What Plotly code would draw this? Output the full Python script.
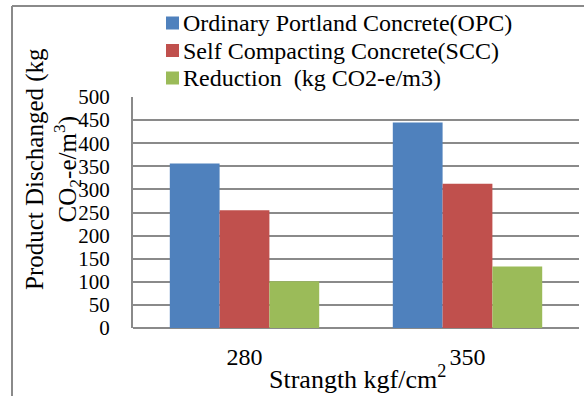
import plotly.graph_objects as go

categories = ["280", "350"]
series_names = ["Ordinary Portland Concrete(OPC)", "Self Compacting Concrete(SCC)", "Reduction  (kg CO2-e/m3)"]
opc = [356, 445]
scc = [255, 312]
reduction = [101, 133]
colors = ["#4F81BD", "#C0504D", "#9BBB59"]
y_ticks = [0, 50, 100, 150, 200, 250, 300, 350, 400, 450, 500]

W, H = 584, 396
L, R, T, B = 133, 5, 97, 68
pw, ph = W - L - R, H - T - B

def px(x):
    return (x - L) / pw

def py(y):
    return (H - B - y) / ph

FONT = "Liberation Serif"

def f(size=20):
    return dict(family=FONT, size=size, color="black")

fig = go.Figure()
for name, vals, col in zip(series_names, [opc, scc, reduction], colors):
    fig.add_trace(go.Bar(x=categories, y=vals, name=name, marker_color=col,
                         marker_line_width=0, showlegend=False))

shapes = []
annotations = []
# custom legend
for i, (name, col) in enumerate(zip(series_names, colors)):
    cy = 23 + i * 27.5
    shapes.append(dict(type="rect", xref="paper", yref="paper",
                       x0=px(166), x1=px(179), y0=py(cy + 6.5), y1=py(cy - 6.5),
                       fillcolor=col, line_width=0))
    annotations.append(dict(text=name, xref="paper", yref="paper",
                            x=px(181), y=py(cy), xanchor="left", yanchor="middle",
                            showarrow=False, font=f(24)))

# outer frame (top and left lines)
shapes.append(dict(type="line", xref="paper", yref="paper",
                   x0=px(12), x1=px(590), y0=py(6), y1=py(6),
                   line=dict(color="#8a8a8a", width=2)))
shapes.append(dict(type="line", xref="paper", yref="paper",
                   x0=px(12), x1=px(12), y0=py(6), y1=py(400),
                   line=dict(color="#8a8a8a", width=2)))

annotations.append(dict(text="Product Dischanged (kg<br>CO<sub>2</sub>-e/m<sup>3</sup>)",
                        xref="paper", yref="paper", x=px(53), y=py(169),
                        xanchor="center", yanchor="middle", textangle=-90,
                        showarrow=False, font=f(25)))
annotations.append(dict(text="Strangth kgf/cm<sup>2</sup>",
                        xref="paper", yref="paper", x=px(357), y=py(377),
                        xanchor="center", yanchor="middle",
                        showarrow=False, font=f(26)))

fig.update_layout(
    width=W, height=H,
    margin=dict(l=L, r=R, t=T, b=B),
    paper_bgcolor="white", plot_bgcolor="white",
    barmode="group", bargap=0.33, bargroupgap=0,
    font=f(20),
    shapes=shapes, annotations=annotations,
    xaxis=dict(showgrid=False, showline=False, ticks="", ticklabelstandoff=12,
               tickfont=f(24)),
    yaxis=dict(range=[0, 500], tickvals=y_ticks, showgrid=True, gridcolor="#8a8a8a",
               gridwidth=2, showline=True, linecolor="#8a8a8a", linewidth=2,
               zeroline=True, zerolinecolor="#8a8a8a", zerolinewidth=2,
               ticks="", ticklabelstandoff=17,
               tickfont=f(21)),
)

fig.write_html("out.html")
